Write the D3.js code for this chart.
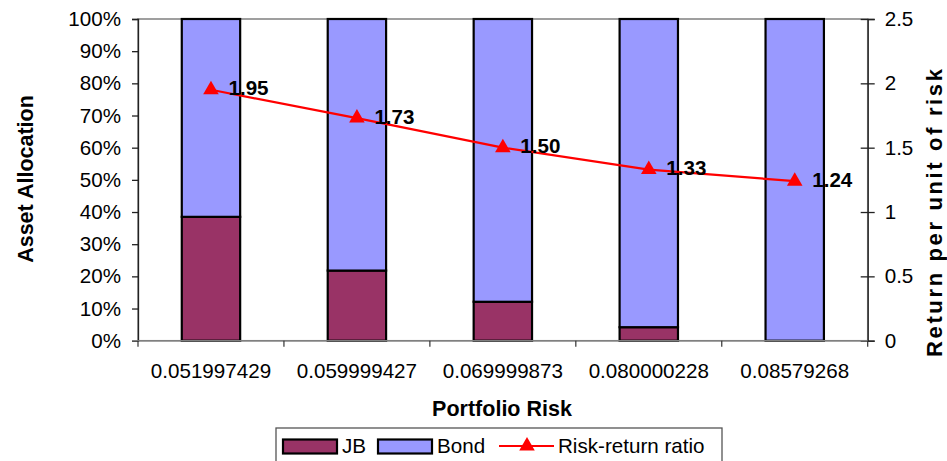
<!DOCTYPE html>
<html>
<head>
<meta charset="utf-8">
<script src="https://cdn.jsdelivr.net/npm/d3@7"></script>
<style>
  html, body { margin: 0; padding: 0; background: #fff; }
  svg { display: block; font-family: "Liberation Sans", Arial, sans-serif; }
</style>
</head>
<body>
<svg id="chart" width="947" height="461"></svg>
<script>
// Portfolio risk levels (category labels on the x axis)
const categories = ["0.051997429", "0.059999427", "0.069999873", "0.080000228", "0.08579268"];
// Share of JB in each portfolio
const jbShare = [0.385, 0.218, 0.121, 0.042, 0.0];
// Share of bonds in each portfolio
const bondShare = [0.615, 0.782, 0.879, 0.958, 1.0];
// Return per unit of risk
const riskReturn = [1.95, 1.73, 1.50, 1.33, 1.24];
// Axis tick values
const leftTicks = [0, 0.1, 0.2, 0.3, 0.4, 0.5, 0.6, 0.7, 0.8, 0.9, 1.0];
const rightTicks = [0, 0.5, 1, 1.5, 2, 2.5];

const svg = d3.select("#chart");
const plot = { left: 138, right: 867.7, top: 19, bottom: 340.7 };
const FS = 20.6;

const x = d3.scaleBand()
  .domain(categories)
  .range([plot.left, plot.right])
  .paddingInner(0.6)
  .paddingOuter(0.3);
const yL = d3.scaleLinear().domain([0, 1]).range([plot.bottom, plot.top]);
const yR = d3.scaleLinear().domain([0, 2.5]).range([plot.bottom, plot.top]);

const colJB = "#993366", colBond = "#9999FF", colLine = "#FF0000";

// plot area frame
svg.append("rect")
  .attr("x", plot.left).attr("y", plot.top)
  .attr("width", plot.right - plot.left).attr("height", plot.bottom - plot.top)
  .attr("fill", "#fff").attr("stroke", "#808080").attr("stroke-width", 1.5);

// stacked bars
const rows = categories.map((c, i) => ({ cat: c, jb: jbShare[i], bond: bondShare[i] }));
const stack = d3.stack().keys(["jb", "bond"])(rows);
const colors = { jb: colJB, bond: colBond };
stack.forEach(layer => {
  svg.append("g").selectAll("rect").data(layer).join("rect")
    .attr("x", d => x(d.data.cat))
    .attr("width", x.bandwidth())
    .attr("y", d => yL(d[1]))
    .attr("height", d => Math.max(0, yL(d[0]) - yL(d[1])))
    .attr("fill", colors[layer.key])
    .attr("stroke", d => (d[1] - d[0]) > 0 ? "#000" : "none")
    .attr("stroke-width", 2.2);
});

// left axis
const axL = d3.axisLeft(yL).tickValues(leftTicks).tickFormat(d3.format(".0%")).tickSize(6).tickPadding(11);
const gL = svg.append("g").attr("transform", `translate(${plot.left},0)`).call(axL);
gL.select(".domain").attr("stroke", "#222").attr("stroke-width", 1.3);
gL.selectAll(".tick line").attr("stroke", "#222").attr("stroke-width", 1.3);
gL.selectAll("text").attr("font-size", FS).attr("fill", "#000")
  .attr("font-family", "'Liberation Sans', Arial, sans-serif");

// right axis (ticks cross the line)
const axR = d3.axisRight(yR).tickValues(rightTicks).tickFormat(d3.format("")).tickSize(7).tickPadding(10);
const gR = svg.append("g").attr("transform", `translate(${plot.right},0)`).call(axR);
gR.select(".domain").attr("stroke", "#222").attr("stroke-width", 1.3);
gR.selectAll(".tick line").attr("x1", -7).attr("stroke", "#222").attr("stroke-width", 1.3);
gR.selectAll("text").attr("font-size", FS).attr("fill", "#000")
  .attr("font-family", "'Liberation Sans', Arial, sans-serif");

// bottom axis: ticks at category boundaries
const gB = svg.append("g");
gB.append("line")
  .attr("x1", plot.left - 6).attr("x2", plot.right)
  .attr("y1", plot.bottom).attr("y2", plot.bottom)
  .attr("stroke", "#808080").attr("stroke-width", 1.5);
const step = x.step();
const boundaries = d3.range(categories.length + 1).map(i => plot.left + i * step);
gB.selectAll("line.tk").data(boundaries).join("line").attr("class", "tk")
  .attr("x1", d => d).attr("x2", d => d)
  .attr("y1", plot.bottom).attr("y2", plot.bottom + 6)
  .attr("stroke", "#333").attr("stroke-width", 1.2);
gB.selectAll("text").data(categories).join("text")
  .attr("x", d => x(d) + x.bandwidth() / 2)
  .attr("y", 377.5)
  .attr("text-anchor", "middle")
  .attr("font-size", FS)
  .text(d => d);

// risk-return line
const cx = (d, i) => x(categories[i]) + x.bandwidth() / 2;
const line = d3.line().x((d, i) => cx(d, i)).y(d => yR(d));
svg.append("path").datum(riskReturn)
  .attr("d", line).attr("fill", "none")
  .attr("stroke", colLine).attr("stroke-width", 2.2);
const tri = d3.symbol().type(d3.symbolTriangle).size(105);
svg.append("g").selectAll("path").data(riskReturn).join("path")
  .attr("d", tri)
  .attr("transform", (d, i) => `translate(${cx(d, i)},${yR(d)})`)
  .attr("fill", colLine);
svg.append("g").selectAll("text").data(riskReturn).join("text")
  .attr("x", (d, i) => cx(d, i) + 17.5)
  .attr("y", d => yR(d) + 5.5)
  .attr("font-size", FS).attr("font-weight", "bold")
  .text(d => d.toFixed(2));

// axis titles
svg.append("text")
  .attr("transform", `translate(33,179) rotate(-90)`)
  .attr("text-anchor", "middle")
  .attr("font-size", 21.5).attr("font-weight", "bold")
  .text("Asset Allocation");
svg.append("text")
  .attr("transform", `translate(942,213) rotate(-90)`)
  .attr("text-anchor", "middle")
  .attr("font-size", 22).attr("font-weight", "bold")
  .attr("textLength", 288).attr("lengthAdjust", "spacing")
  .text("Return per unit of risk");
svg.append("text")
  .attr("x", 502).attr("y", 416)
  .attr("text-anchor", "middle")
  .attr("font-size", 21.5).attr("font-weight", "bold")
  .text("Portfolio Risk");

// legend
const lg = svg.append("g");
lg.append("rect")
  .attr("x", 276).attr("y", 428).attr("width", 446).attr("height", 40)
  .attr("fill", "#fff").attr("stroke", "#555").attr("stroke-width", 1.3);
const legendItems = [
  { label: "JB", type: "box", color: colJB, x0: 283 },
  { label: "Bond", type: "box", color: colBond, x0: 378 },
  { label: "Risk-return ratio", type: "line", color: colLine, x0: 499 }
];
legendItems.forEach(it => {
  if (it.type === "box") {
    lg.append("rect").attr("x", it.x0).attr("y", 439.5).attr("width", 54).attr("height", 14)
      .attr("fill", it.color).attr("stroke", "#000").attr("stroke-width", 2.2);
  } else {
    lg.append("line").attr("x1", it.x0).attr("x2", it.x0 + 55).attr("y1", 446).attr("y2", 446)
      .attr("stroke", it.color).attr("stroke-width", 2.2);
    lg.append("path").attr("d", tri).attr("transform", `translate(${it.x0 + 28},446)`).attr("fill", it.color);
  }
  lg.append("text").attr("x", it.x0 + 59).attr("y", 453)
    .attr("font-size", FS).text(it.label);
});
</script>
</body>
</html>
